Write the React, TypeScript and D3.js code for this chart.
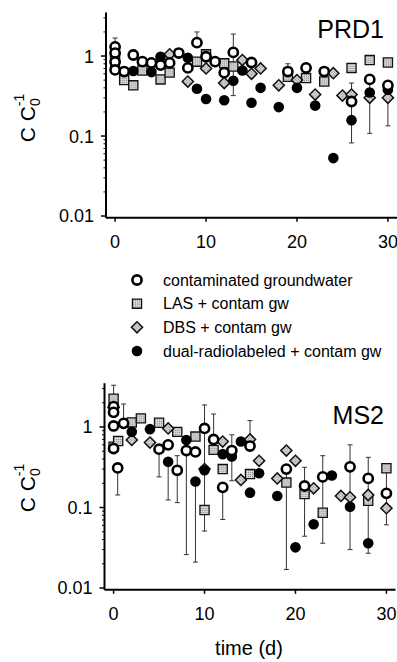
import React from 'react';
import * as d3 from 'd3';

// ---- PRD1 (top panel) ----
const prdCgDay = [0, 0, 0, 0, 1, 2, 3, 4, 5, 6, 7, 8, 9, 10, 11, 12, 13, 15, 19, 21, 23, 26, 28, 30];
const prdCgVal = [1.3, 1.09, 0.84, 0.67, 0.64, 1.03, 0.85, 0.82, 0.77, 0.82, 1.09, 0.71, 1.47, 0.98, 0.85, 0.62, 1.11, 0.83, 0.64, 0.71, 0.64, 0.27, 0.51, 0.43];
const prdLasDay = [0, 1, 2, 3, 5, 6, 9, 10, 12, 13, 19, 21, 23, 26, 28, 30];
const prdLasVal = [0.95, 0.5, 0.43, 0.66, 0.51, 0.62, 0.85, 1.05, 0.81, 0.74, 0.55, 0.53, 0.48, 0.71, 0.89, 0.83];
const prdDbsDay = [6, 8, 10, 12, 14, 15, 16, 18, 20, 22, 24, 25, 26, 28, 30];
const prdDbsVal = [1.05, 0.48, 0.7, 0.46, 0.89, 0.6, 0.7, 0.43, 0.5, 0.33, 0.61, 0.32, 0.33, 0.3, 0.3];
const prdDualDay = [0, 2, 4, 5, 8, 9, 10, 12, 13, 14, 15, 16, 18, 20, 22, 24, 26, 28, 30];
const prdDualVal = [0.72, 0.65, 0.63, 0.98, 0.95, 0.39, 0.29, 0.28, 0.49, 0.66, 0.26, 0.4, 0.23, 0.4, 0.24, 0.053, 0.158, 0.35, 0.38];
const prdErrDay = [0, 2, 9, 13, 19, 23, 26, 28, 30];
const prdErrLo = [1.3, 1.03, 1.47, 0.32, 0.64, 0.64, 0.082, 0.108, 0.134];
const prdErrHi = [1.68, 1.19, 2.0, 1.88, 0.8, 0.72, 0.46, 0.51, 0.43];

// ---- MS2 (bottom panel) ----
const msCgDay = [0, 0, 0, 0, 0.45, 1.1, 5, 6, 7, 8, 9, 10, 11, 12, 13, 15, 19, 21, 23, 26, 28, 30];
const msCgVal = [1.79, 1.52, 1.03, 0.54, 0.31, 1.11, 0.53, 0.6, 0.29, 0.51, 0.49, 0.96, 0.7, 0.178, 0.51, 0.58, 0.3, 0.185, 0.24, 0.32, 0.23, 0.15];
const msLasDay = [0, 0, 0.5, 2, 3, 5, 7, 9, 10, 11, 12, 15, 19, 21, 23, 28, 30];
const msLasVal = [2.25, 0.57, 0.67, 1.14, 1.28, 1.13, 0.87, 0.76, 0.093, 0.52, 0.3, 0.26, 0.204, 0.147, 0.086, 0.121, 0.307];
const msDbsDay = [0, 2, 4, 6, 10, 12, 14, 15, 16, 18, 19, 20, 22, 25, 26, 28, 30];
const msDbsVal = [1.75, 0.69, 0.64, 0.96, 0.3, 0.66, 0.22, 0.7, 0.38, 0.23, 0.51, 0.38, 0.173, 0.139, 0.134, 0.143, 0.098];
const msDualDay = [2, 4, 6, 8, 9, 10, 12, 13, 14, 15, 16, 18, 20, 22, 24, 26, 28];
const msDualVal = [0.87, 0.94, 0.37, 0.69, 0.21, 0.29, 0.46, 0.43, 0.66, 0.153, 0.266, 0.139, 0.032, 0.062, 0.25, 0.102, 0.036];
const msErrDay = [0, 0.45, 1.1, 5, 6, 7, 8, 9, 10, 11, 12, 13, 15, 19, 21, 23, 26, 28, 30];
const msErrLo = [1.79, 0.143, 1.11, 0.24, 0.124, 0.115, 0.026, 0.021, 0.051, 0.7, 0.071, 0.215, 0.58, 0.017, 0.044, 0.036, 0.03, 0.027, 0.061];
const msErrHi = [3.3, 0.31, 1.93, 0.53, 0.37, 0.44, 0.51, 0.21, 1.88, 1.45, 0.178, 0.8, 1.2, 0.3, 0.316, 0.44, 0.6, 0.42, 0.307];

const xTicks = [0, 10, 20, 30];
const yTicks = [0.01, 0.1, 1];
const yTickLabels = ['0.01', '0.1', '1'];
const legendLabels = [
  'contaminated groundwater',
  'LAS + contam gw',
  'DBS + contam gw',
  'dual-radiolabeled + contam gw',
];

const FONT = '"Liberation Sans", Arial, Helvetica, sans-serif';
const zip = (a: number[], b: number[]) => a.map((d, i) => [d, b[i]]);
const diamondPath = d3.symbol().type(d3.symbolSquare).size(62)() as string;
const squarePath = d3.symbol().type(d3.symbolSquare).size(84)() as string;

function Marker({ kind, cx, cy }: { kind: string; cx: number; cy: number }) {
  if (kind === 'cg')
    return <circle cx={cx} cy={cy} r={4.6} fill="#fff" stroke="#000" strokeWidth={2.6} />;
  if (kind === 'las')
    return <path d={squarePath} transform={`translate(${cx},${cy})`} fill="url(#dots)" stroke="#111" strokeWidth={1.3} />;
  if (kind === 'dbs')
    return <path d={diamondPath} transform={`translate(${cx},${cy}) rotate(45)`} fill="url(#dots)" stroke="#111" strokeWidth={1.5} />;
  return <circle cx={cx} cy={cy} r={5.3} fill="#000" />;
}

function Panel(props: {
  title: string; xr: [number, number]; yr: [number, number]; labelY: number; titleY: number;
  cg: number[][]; las: number[][]; dbs: number[][]; dual: number[][];
  err: { day: number[]; lo: number[]; hi: number[] };
}) {
  const x = d3.scaleLinear().domain([-1, 31]).range(props.xr);
  const y = d3.scaleLog().domain([0.0095, 3.5]).range(props.yr);
  const minor = y.ticks().filter((t) => Math.abs(Math.log10(t) - Math.round(Math.log10(t))) > 1e-6);
  const [x0, x1] = props.xr;
  const [yb, yt] = props.yr;
  return (
    <g>
      {props.err.day.map((d, i) => (
        <g key={'e' + i} stroke="#333" strokeWidth={1}>
          <line x1={x(d)} x2={x(d)} y1={y(props.err.lo[i])} y2={y(props.err.hi[i])} />
          <line x1={x(d) - 2.5} x2={x(d) + 2.5} y1={y(props.err.hi[i])} y2={y(props.err.hi[i])} />
          <line x1={x(d) - 2.5} x2={x(d) + 2.5} y1={y(props.err.lo[i])} y2={y(props.err.lo[i])} />
        </g>
      ))}
      {props.las.map(([d, v], i) => <Marker key={'l' + i} kind="las" cx={x(d)} cy={y(v)} />)}
      {props.dbs.map(([d, v], i) => <Marker key={'b' + i} kind="dbs" cx={x(d)} cy={y(v)} />)}
      {props.dual.map(([d, v], i) => <Marker key={'d' + i} kind="dual" cx={x(d)} cy={y(v)} />)}
      {props.cg.map(([d, v], i) => <Marker key={'c' + i} kind="cg" cx={x(d)} cy={y(v)} />)}

      {/* axes */}
      <line x1={x0} x2={x0} y1={yt} y2={yb} stroke="#000" strokeWidth={2} />
      <line x1={x0} x2={x1} y1={yb} y2={yb} stroke="#000" strokeWidth={2} />
      {minor.map((t, i) => (
        <line key={'m' + i} x1={x0 - 2.5} x2={x0} y1={y(t)} y2={y(t)} stroke="#000" strokeWidth={1} />
      ))}
      {yTicks.map((t, i) => (
        <g key={'y' + i}>
          <line x1={x0 - 5} x2={x0} y1={y(t)} y2={y(t)} stroke="#000" strokeWidth={1.5} />
          <text x={x0 - 12} y={y(t)} dy="0.36em" textAnchor="end" fontSize={18} fontFamily={FONT}>{yTickLabels[i]}</text>
        </g>
      ))}
      {xTicks.map((t) => (
        <g key={'x' + t}>
          <line x1={x(t)} x2={x(t)} y1={yb} y2={yb + 4} stroke="#000" strokeWidth={1.5} />
          <text x={x(t)} y={yb + 30} textAnchor="middle" fontSize={18} fontFamily={FONT}>{t}</text>
        </g>
      ))}
      <text x={384} y={props.titleY} textAnchor="end" fontSize={25} fontFamily={FONT}>{props.title}</text>
      <text transform={`translate(35,${props.labelY}) rotate(-90)`} textAnchor="middle" fontSize={21} fontFamily={FONT}>
        C C<tspan fontSize={14} dy={5}>0</tspan><tspan fontSize={14} dx={-8} dy={-16}>-1</tspan>
      </text>
    </g>
  );
}

export default function App() {
  const legendKinds = ['cg', 'las', 'dbs', 'dual'];
  const legendY = d3.scalePoint<number>().domain([0, 1, 2, 3]).range([280, 351]);
  return (
    <svg width={397} height={662} style={{ position: 'absolute', left: 0, top: 0, background: '#fff' }}>
      <defs>
        <pattern id="dots" width={2} height={2} patternUnits="userSpaceOnUse">
          <rect width={2} height={2} fill="#d8d8d8" />
          <rect width={1} height={1} fill="#888" />
        </pattern>
      </defs>
      <rect width={397} height={662} fill="#fff" />
      <Panel
        title="PRD1" xr={[106, 397]} yr={[217.8, 12.5]} labelY={118} titleY={38}
        cg={zip(prdCgDay, prdCgVal)} las={zip(prdLasDay, prdLasVal)}
        dbs={zip(prdDbsDay, prdDbsVal)} dual={zip(prdDualDay, prdDualVal)}
        err={{ day: prdErrDay, lo: prdErrLo, hi: prdErrHi }}
      />
      <Panel
        title="MS2" xr={[104.5, 395.5]} yr={[589.8, 383.2]} labelY={488} titleY={424}
        cg={zip(msCgDay, msCgVal)} las={zip(msLasDay, msLasVal)}
        dbs={zip(msDbsDay, msDbsVal)} dual={zip(msDualDay, msDualVal)}
        err={{ day: msErrDay, lo: msErrLo, hi: msErrHi }}
      />
      {legendLabels.map((l, i) => (
        <g key={l}>
          <Marker kind={legendKinds[i]} cx={137} cy={legendY(i) as number} />
          <text x={163} y={(legendY(i) as number) + 5.5} fontSize={16} fontFamily={FONT}>{l}</text>
        </g>
      ))}
      <text x={249} y={655} textAnchor="middle" fontSize={20} fontFamily={FONT}>time (d)</text>
    </svg>
  );
}
